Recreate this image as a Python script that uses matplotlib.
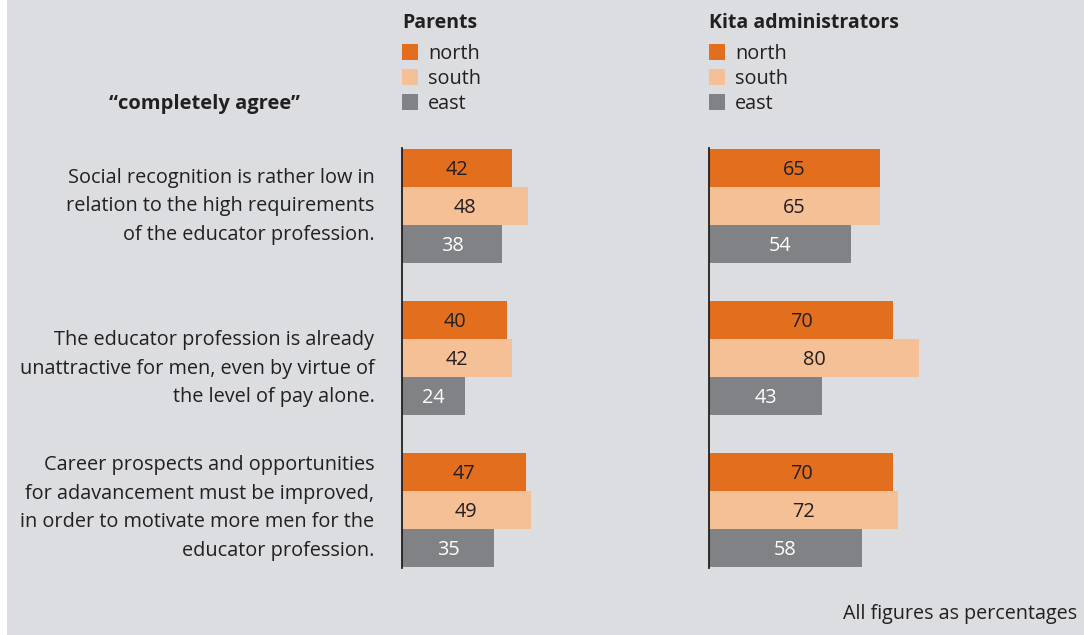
import numpy as np
import matplotlib.pyplot as plt
from matplotlib.patches import Rectangle

plt.rcParams['font.family'] = ['Open Sans', 'DejaVu Sans']

# data
statements = [
    "Social recognition is rather low in\nrelation to the high requirements\nof the educator profession.",
    "The educator profession is already\nunattractive for men, even by virtue of\nthe level of pay alone.",
    "Career prospects and opportunities\nfor adavancement must be improved,\nin order to motivate more men for the\neducator profession.",
]
regions = ['north', 'south', 'east']
parents_north = [42, 40, 47]
parents_south = [48, 42, 49]
parents_east = [38, 24, 35]
kita_north = [65, 70, 70]
kita_south = [65, 80, 72]
kita_east = [54, 43, 58]

colors = {'north': '#e36f1e', 'south': '#f5c096', 'east': '#818286'}
label_colors = {'north': '#231f20', 'south': '#231f20', 'east': 'white'}
bg = '#dcdde0'
txt = '#231f20'
FS = 14.3

W, H = 1084, 635
fig = plt.figure(figsize=(W / 100, H / 100), dpi=100)
fig.patch.set_facecolor('white')
fig.patches.append(Rectangle((7 / W, 0), 1 - 7 / W, 1, transform=fig.transFigure,
                             facecolor=bg, edgecolor='none', zorder=-10))


def fx(px):
    return px / W


def fy(py):
    return 1 - py / H


def draw_panel(ax, series):
    ax.set_facecolor('none')
    for j, reg in enumerate(regions):
        vals = np.array(series[reg])
        ypos = np.arange(len(vals)) * 4 + j
        ax.barh(ypos, vals, height=1.0, color=colors[reg], edgecolor='none')
        for y, v in zip(ypos, vals):
            ax.text(v / 2, y + 0.05, str(v), ha='center', va='center', fontsize=FS,
                    color=label_colors[reg])
    ax.set_xlim(0, 100)
    ax.set_ylim(10.53, -0.53)
    for s in ['top', 'right', 'bottom']:
        ax.spines[s].set_visible(False)
    ax.spines['left'].set_color(txt)
    ax.spines['left'].set_linewidth(1.3)
    ax.set_xticks([])
    ax.set_yticks([])


ax_top, ax_bot = 148, 568
ax_p = fig.add_axes([fx(402), fy(ax_bot), fx(263), (ax_bot - ax_top) / H])
ax_k = fig.add_axes([fx(709), fy(ax_bot), fx(263), (ax_bot - ax_top) / H])

draw_panel(ax_p, {'north': parents_north, 'south': parents_south, 'east': parents_east})
draw_panel(ax_k, {'north': kita_north, 'south': kita_south, 'east': kita_east})

# statements, right aligned left of parents axis
label_offsets = [0.0, 0.28, -0.05]
for i, s in enumerate(statements):
    yc = i * 4 + 1 + label_offsets[i]
    ax_p.text(-0.105, yc, s, transform=ax_p.get_yaxis_transform(), ha='right', va='center',
              fontsize=FS, color=txt, linespacing=1.56)

# headers and legends
for x0, title in [(402, 'Parents'), (709, 'Kita administrators')]:
    fig.text(fx(x0), fy(23.5), title, fontsize=14, fontweight='bold', color=txt,
             ha='left', va='center')
    for k, reg in enumerate(regions):
        yy = 52 + k * 25
        fig.patches.append(Rectangle((fx(x0), fy(yy + 8)), fx(16), 16 / H,
                                     transform=fig.transFigure, facecolor=colors[reg],
                                     edgecolor='none'))
        fig.text(fx(x0 + 26), fy(yy + 2), reg, fontsize=FS, color=txt, ha='left', va='center')

fig.text(fx(300), fy(104.5), '\u201ccompletely agree\u201d', fontsize=14.5, fontweight='bold',
         color=txt, ha='right', va='center')
fig.text(fx(1077), fy(613.5), 'All figures as percentages', fontsize=14.2, color=txt,
         ha='right', va='center')

fig.savefig('out.png', dpi=100, facecolor=fig.get_facecolor())
